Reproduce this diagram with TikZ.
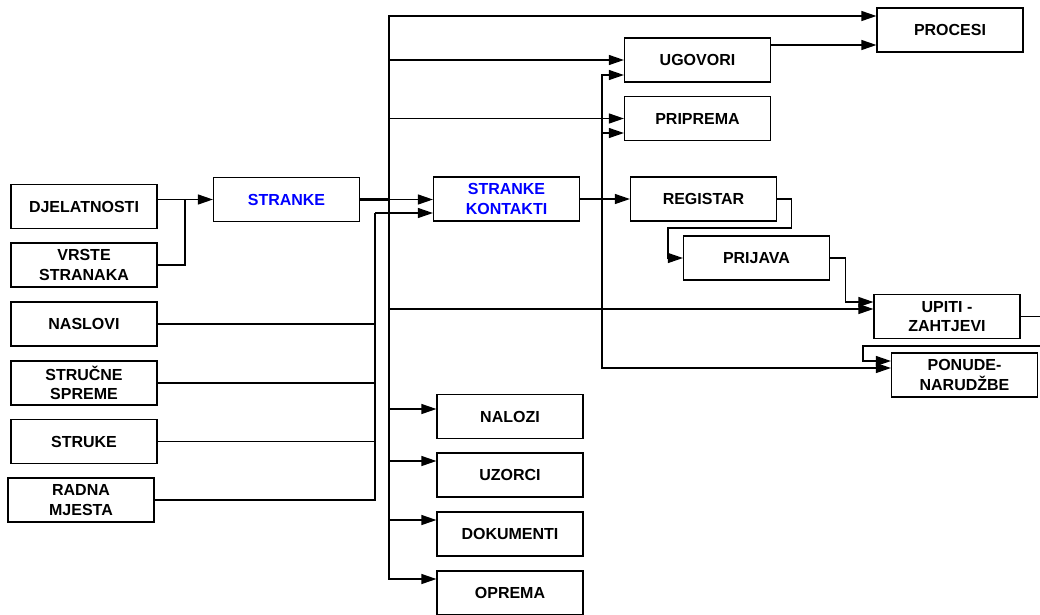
\documentclass[tikz,border=0pt]{standalone}
\usepackage{fontspec}
\setmainfont{Liberation Sans}
\usetikzlibrary{arrows.meta}
\begin{document}
\begin{tikzpicture}[x=1pt, y=-1pt, line width=1.2pt,
        every node/.style={font=\fontsize{16}{19.5}\selectfont\bfseries},
        box/.style={draw, minimum width=146pt, minimum height=44pt, inner sep=0pt, align=center},
        arr/.style={-{Triangle[length=15pt, width=10pt]}}]
        \useasboundingbox (0,0) rectangle (1040,614);
        \foreach \name/\xpos/\ypos/\boxtext in {djelatnosti/84/206.5/DJELATNOSTI, vrste/84/265/{VRSTE\\STRANAKA},
                naslovi/84/324/NASLOVI, strucne/84/383/{STRUČNE\\SPREME}, struke/84/441.5/STRUKE,
                radna/81/500/{RADNA\\MJESTA}, procesi/950/30/PROCESI, ugovori/697.5/60/UGOVORI,
                priprema/697.5/118.5/PRIPREMA, registar/703.5/199/REGISTAR, prijava/756.5/258/PRIJAVA,
                upiti/947/316.5/{UPITI -\\ZAHTJEVI}, ponude/964.5/375/{PONUDE-\\NARUDŽBE},
                nalozi/510/416.5/NALOZI, uzorci/510/475/UZORCI, dokumenti/510/534/DOKUMENTI, oprema/510/593/OPREMA}
            \node[box] (\name) at (\xpos,\ypos) {\boxtext};
        \node[box, text=blue] (stranke) at (286.5,199.5) {STRANKE};
        \node[box, text=blue] (kontakti) at (506.5,199) {STRANKE\\KONTAKTI};
        \coordinate (merge) at (185,0);
        \coordinate (bus) at (389,0);
        \coordinate (feed) at (375,0);
        \coordinate (side) at (602,0);
        \coordinate (kin) at ([yshift=-14pt]kontakti.west);
        \draw (vrste.east) -| (merge |- stranke.west);
        \draw[arr] (djelatnosti.east |- stranke.west) -- (stranke.west);
        \draw[line width=2.4pt] (stranke.east) -- (bus |- stranke.east);
        \draw[arr] (stranke.east) -- (stranke.east -| kontakti.west);
        \foreach \name/\dy in {procesi/14, ugovori/0, priprema/0, upiti/7.5, nalozi/7.5, uzorci/14, dokumenti/14, oprema/14}
            \draw[arr] (bus |- stranke.east) |- ([yshift=\dy pt]\name.west);
        \foreach \name in {naslovi, strucne, struke, radna}
            \draw (\name.east) -| (kin -| feed);
        \draw[arr] (kin -| feed) -- (kin);
        \draw[arr] (kontakti.east) -- (kontakti.east -| registar.west);
        \foreach \name/\dy in {ugovori/-15, priprema/-14.5, ponude/7}
            \draw[arr] (side |- kontakti.east) |- ([yshift=\dy pt]\name.west);
        \draw[arr] ([yshift=15pt]ugovori.east) -- ([yshift=-15pt]procesi.west);
        \draw[arr] (registar.east) -- ++(14,0) -- ++(0,29) -| ([xshift=-15pt]prijava.west) -- (prijava.west);
        \draw[arr] (prijava.east) -| ([xshift=-28pt, yshift=14.5pt]upiti.west) -- ([yshift=14.5pt]upiti.west);
        \draw[arr] (upiti.east) -- ++(24,0) |- ([xshift=-28pt, yshift=29pt]ponude.west) |- ([yshift=14pt]ponude.west);
    \end{tikzpicture}
\end{document}
